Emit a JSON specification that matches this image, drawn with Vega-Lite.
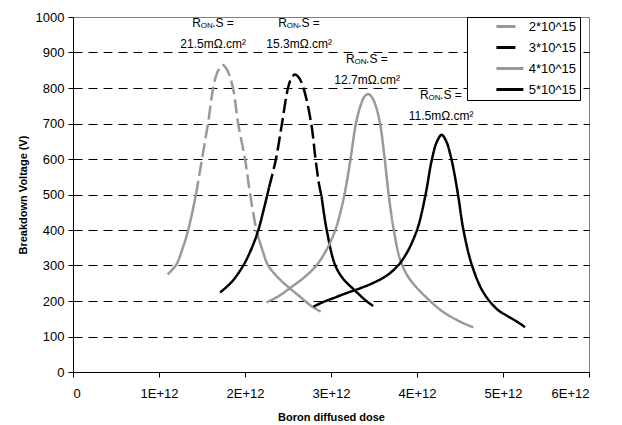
{
  "$schema": "https://vega.github.io/schema/vega-lite/v6.json",
  "autosize": {"type": "none"},
  "width": 516,
  "height": 355,
  "padding": {"left": 73, "top": 17, "right": 33, "bottom": 53},
  "background": "white",
  "config": {
    "view": {"stroke": "#808080", "strokeWidth": 1},
    "font": "Liberation Sans"
  },
  "datasets": {
    "curves": [
      {"series": "2*10^15", "seg": "1a", "style": "solid", "dose": 1.10e12, "bv": 275},
      {"series": "2*10^15", "seg": "1a", "style": "solid", "dose": 1.20e12, "bv": 302},
      {"series": "2*10^15", "seg": "1a", "style": "solid", "dose": 1.27e12, "bv": 345},
      {"series": "2*10^15", "seg": "1a", "style": "solid", "dose": 1.34e12, "bv": 400},
      {"series": "2*10^15", "seg": "1a", "style": "solid", "dose": 1.43e12, "bv": 500},
      {"series": "2*10^15", "seg": "1b", "style": "dash", "dose": 1.43e12, "bv": 500},
      {"series": "2*10^15", "seg": "1b", "style": "dash", "dose": 1.50e12, "bv": 600},
      {"series": "2*10^15", "seg": "1b", "style": "dash", "dose": 1.57e12, "bv": 700},
      {"series": "2*10^15", "seg": "1b", "style": "dash", "dose": 1.63e12, "bv": 800},
      {"series": "2*10^15", "seg": "1b", "style": "dash", "dose": 1.68e12, "bv": 845},
      {"series": "2*10^15", "seg": "1b", "style": "dash", "dose": 1.74e12, "bv": 865},
      {"series": "2*10^15", "seg": "1b", "style": "dash", "dose": 1.79e12, "bv": 852},
      {"series": "2*10^15", "seg": "1b", "style": "dash", "dose": 1.86e12, "bv": 800},
      {"series": "2*10^15", "seg": "1b", "style": "dash", "dose": 1.92e12, "bv": 700},
      {"series": "2*10^15", "seg": "1b", "style": "dash", "dose": 2.00e12, "bv": 600},
      {"series": "2*10^15", "seg": "1b", "style": "dash", "dose": 2.06e12, "bv": 500},
      {"series": "2*10^15", "seg": "1b", "style": "dash", "dose": 2.13e12, "bv": 400},
      {"series": "2*10^15", "seg": "1c", "style": "solid", "dose": 2.13e12, "bv": 400},
      {"series": "2*10^15", "seg": "1c", "style": "solid", "dose": 2.20e12, "bv": 345},
      {"series": "2*10^15", "seg": "1c", "style": "solid", "dose": 2.27e12, "bv": 300},
      {"series": "2*10^15", "seg": "1c", "style": "solid", "dose": 2.40e12, "bv": 262},
      {"series": "2*10^15", "seg": "1c", "style": "solid", "dose": 2.52e12, "bv": 236},
      {"series": "2*10^15", "seg": "1c", "style": "solid", "dose": 2.64e12, "bv": 212},
      {"series": "2*10^15", "seg": "1c", "style": "solid", "dose": 2.76e12, "bv": 188},
      {"series": "2*10^15", "seg": "1c", "style": "solid", "dose": 2.88e12, "bv": 170},

      {"series": "3*10^15", "seg": "2a", "style": "solid", "dose": 1.71e12, "bv": 224},
      {"series": "3*10^15", "seg": "2a", "style": "solid", "dose": 1.85e12, "bv": 255},
      {"series": "3*10^15", "seg": "2a", "style": "solid", "dose": 1.98e12, "bv": 300},
      {"series": "3*10^15", "seg": "2a", "style": "solid", "dose": 2.08e12, "bv": 350},
      {"series": "3*10^15", "seg": "2a", "style": "solid", "dose": 2.155e12, "bv": 400},
      {"series": "3*10^15", "seg": "2a", "style": "solid", "dose": 2.22e12, "bv": 460},
      {"series": "3*10^15", "seg": "2a", "style": "solid", "dose": 2.28e12, "bv": 520},
      {"series": "3*10^15", "seg": "2b", "style": "dash", "dose": 2.28e12, "bv": 520},
      {"series": "3*10^15", "seg": "2b", "style": "dash", "dose": 2.36e12, "bv": 600},
      {"series": "3*10^15", "seg": "2b", "style": "dash", "dose": 2.43e12, "bv": 700},
      {"series": "3*10^15", "seg": "2b", "style": "dash", "dose": 2.50e12, "bv": 800},
      {"series": "3*10^15", "seg": "2b", "style": "dash", "dose": 2.54e12, "bv": 828},
      {"series": "3*10^15", "seg": "2b", "style": "dash", "dose": 2.58e12, "bv": 838},
      {"series": "3*10^15", "seg": "2b", "style": "dash", "dose": 2.63e12, "bv": 828},
      {"series": "3*10^15", "seg": "2b", "style": "dash", "dose": 2.68e12, "bv": 800},
      {"series": "3*10^15", "seg": "2b", "style": "dash", "dose": 2.77e12, "bv": 700},
      {"series": "3*10^15", "seg": "2b", "style": "dash", "dose": 2.82e12, "bv": 600},
      {"series": "3*10^15", "seg": "2b", "style": "dash", "dose": 2.86e12, "bv": 530},
      {"series": "3*10^15", "seg": "2b", "style": "dash", "dose": 2.89e12, "bv": 495},
      {"series": "3*10^15", "seg": "2c", "style": "solid", "dose": 2.89e12, "bv": 495},
      {"series": "3*10^15", "seg": "2c", "style": "solid", "dose": 2.95e12, "bv": 400},
      {"series": "3*10^15", "seg": "2c", "style": "solid", "dose": 3.05e12, "bv": 300},
      {"series": "3*10^15", "seg": "2c", "style": "solid", "dose": 3.15e12, "bv": 260},
      {"series": "3*10^15", "seg": "2c", "style": "solid", "dose": 3.25e12, "bv": 236},
      {"series": "3*10^15", "seg": "2c", "style": "solid", "dose": 3.32e12, "bv": 220},
      {"series": "3*10^15", "seg": "2c", "style": "solid", "dose": 3.40e12, "bv": 202},
      {"series": "3*10^15", "seg": "2c", "style": "solid", "dose": 3.49e12, "bv": 186},

      {"series": "4*10^15", "seg": "3a", "style": "solid", "dose": 2.25e12, "bv": 196},
      {"series": "4*10^15", "seg": "3a", "style": "solid", "dose": 2.40e12, "bv": 215},
      {"series": "4*10^15", "seg": "3a", "style": "solid", "dose": 2.52e12, "bv": 236},
      {"series": "4*10^15", "seg": "3a", "style": "solid", "dose": 2.68e12, "bv": 265},
      {"series": "4*10^15", "seg": "3a", "style": "solid", "dose": 2.83e12, "bv": 300},
      {"series": "4*10^15", "seg": "3a", "style": "solid", "dose": 2.96e12, "bv": 350},
      {"series": "4*10^15", "seg": "3a", "style": "solid", "dose": 3.05e12, "bv": 400},
      {"series": "4*10^15", "seg": "3a", "style": "solid", "dose": 3.12e12, "bv": 460},
      {"series": "4*10^15", "seg": "3a", "style": "solid", "dose": 3.18e12, "bv": 530},
      {"series": "4*10^15", "seg": "3a", "style": "solid", "dose": 3.23e12, "bv": 605},
      {"series": "4*10^15", "seg": "3a", "style": "solid", "dose": 3.29e12, "bv": 700},
      {"series": "4*10^15", "seg": "3a", "style": "solid", "dose": 3.35e12, "bv": 755},
      {"series": "4*10^15", "seg": "3a", "style": "solid", "dose": 3.39e12, "bv": 776},
      {"series": "4*10^15", "seg": "3a", "style": "solid", "dose": 3.43e12, "bv": 783},
      {"series": "4*10^15", "seg": "3a", "style": "solid", "dose": 3.47e12, "bv": 776},
      {"series": "4*10^15", "seg": "3a", "style": "solid", "dose": 3.52e12, "bv": 750},
      {"series": "4*10^15", "seg": "3a", "style": "solid", "dose": 3.57e12, "bv": 700},
      {"series": "4*10^15", "seg": "3a", "style": "solid", "dose": 3.62e12, "bv": 610},
      {"series": "4*10^15", "seg": "3a", "style": "solid", "dose": 3.67e12, "bv": 500},
      {"series": "4*10^15", "seg": "3a", "style": "solid", "dose": 3.73e12, "bv": 400},
      {"series": "4*10^15", "seg": "3a", "style": "solid", "dose": 3.80e12, "bv": 320},
      {"series": "4*10^15", "seg": "3a", "style": "solid", "dose": 3.88e12, "bv": 275},
      {"series": "4*10^15", "seg": "3a", "style": "solid", "dose": 3.98e12, "bv": 242},
      {"series": "4*10^15", "seg": "3a", "style": "solid", "dose": 4.13e12, "bv": 205},
      {"series": "4*10^15", "seg": "3a", "style": "solid", "dose": 4.30e12, "bv": 170},
      {"series": "4*10^15", "seg": "3a", "style": "solid", "dose": 4.50e12, "bv": 142},
      {"series": "4*10^15", "seg": "3a", "style": "solid", "dose": 4.655e12, "bv": 126},

      {"series": "5*10^15", "seg": "4a", "style": "solid", "dose": 2.795e12, "bv": 184},
      {"series": "5*10^15", "seg": "4a", "style": "solid", "dose": 2.90e12, "bv": 196},
      {"series": "5*10^15", "seg": "4a", "style": "solid", "dose": 3.07e12, "bv": 212},
      {"series": "5*10^15", "seg": "4a", "style": "solid", "dose": 3.20e12, "bv": 224},
      {"series": "5*10^15", "seg": "4a", "style": "solid", "dose": 3.34e12, "bv": 236},
      {"series": "5*10^15", "seg": "4a", "style": "solid", "dose": 3.50e12, "bv": 252},
      {"series": "5*10^15", "seg": "4a", "style": "solid", "dose": 3.65e12, "bv": 272},
      {"series": "5*10^15", "seg": "4a", "style": "solid", "dose": 3.78e12, "bv": 300},
      {"series": "5*10^15", "seg": "4a", "style": "solid", "dose": 3.88e12, "bv": 335},
      {"series": "5*10^15", "seg": "4a", "style": "solid", "dose": 3.96e12, "bv": 375},
      {"series": "5*10^15", "seg": "4a", "style": "solid", "dose": 4.02e12, "bv": 415},
      {"series": "5*10^15", "seg": "4a", "style": "solid", "dose": 4.10e12, "bv": 500},
      {"series": "5*10^15", "seg": "4a", "style": "solid", "dose": 4.17e12, "bv": 595},
      {"series": "5*10^15", "seg": "4a", "style": "solid", "dose": 4.23e12, "bv": 648},
      {"series": "5*10^15", "seg": "4a", "style": "solid", "dose": 4.287e12, "bv": 668},
      {"series": "5*10^15", "seg": "4a", "style": "solid", "dose": 4.34e12, "bv": 650},
      {"series": "5*10^15", "seg": "4a", "style": "solid", "dose": 4.39e12, "bv": 610},
      {"series": "5*10^15", "seg": "4a", "style": "solid", "dose": 4.43e12, "bv": 565},
      {"series": "5*10^15", "seg": "4a", "style": "solid", "dose": 4.48e12, "bv": 495},
      {"series": "5*10^15", "seg": "4a", "style": "solid", "dose": 4.54e12, "bv": 400},
      {"series": "5*10^15", "seg": "4a", "style": "solid", "dose": 4.64e12, "bv": 300},
      {"series": "5*10^15", "seg": "4a", "style": "solid", "dose": 4.77e12, "bv": 225},
      {"series": "5*10^15", "seg": "4a", "style": "solid", "dose": 4.93e12, "bv": 177},
      {"series": "5*10^15", "seg": "4a", "style": "solid", "dose": 5.05e12, "bv": 158},
      {"series": "5*10^15", "seg": "4a", "style": "solid", "dose": 5.12e12, "bv": 148},
      {"series": "5*10^15", "seg": "4a", "style": "solid", "dose": 5.20e12, "bv": 136},
      {"series": "5*10^15", "seg": "4a", "style": "solid", "dose": 5.256e12, "bv": 126}
    ],
    "labels": [
      {"part": "r", "dose": 1.63e12, "bv": 983, "txt": "R"},
      {"part": "sub", "dose": 1.63e12, "bv": 983, "txt": "ON"},
      {"part": "rest", "dose": 1.63e12, "bv": 983, "txt": ".S ="},
      {"part": "value", "dose": 1.63e12, "bv": 924, "txt": "21.5mΩ.cm²"},
      {"part": "r", "dose": 2.63e12, "bv": 983, "txt": "R"},
      {"part": "sub", "dose": 2.63e12, "bv": 983, "txt": "ON"},
      {"part": "rest", "dose": 2.63e12, "bv": 983, "txt": ".S ="},
      {"part": "value", "dose": 2.63e12, "bv": 924, "txt": "15.3mΩ.cm²"},
      {"part": "r", "dose": 3.42e12, "bv": 882, "txt": "R"},
      {"part": "sub", "dose": 3.42e12, "bv": 882, "txt": "ON"},
      {"part": "rest", "dose": 3.42e12, "bv": 882, "txt": ".S ="},
      {"part": "value", "dose": 3.42e12, "bv": 822, "txt": "12.7mΩ.cm²"},
      {"part": "r", "dose": 4.28e12, "bv": 780, "txt": "R"},
      {"part": "sub", "dose": 4.28e12, "bv": 780, "txt": "ON"},
      {"part": "rest", "dose": 4.28e12, "bv": 780, "txt": ".S ="},
      {"part": "value", "dose": 4.28e12, "bv": 721, "txt": "11.5mΩ.cm²"}
    ]
  },
  "encoding": {
    "x": {
      "field": "dose", "type": "quantitative",
      "scale": {"domain": [0, 6e12], "nice": false, "zero": false},
      "axis": {
        "title": "Boron diffused dose",
        "values": [0, 1e12, 2e12, 3e12, 4e12, 5e12, 6e12],
        "labelExpr": "datum.value == 0 ? '0' : format(datum.value / 1e12, 'd') + 'E+12'",
        "grid": false,
        "labelOverlap": false,
        "tickSize": 5, "tickColor": "black", "domainColor": "black",
        "labelFont": "Liberation Sans", "labelFontSize": 13, "labelColor": "black",
        "labelPadding": 10,
        "titleFont": "Liberation Sans", "titleFontSize": 11, "titleFontWeight": "bold",
        "titleColor": "black", "titlePadding": 11
      }
    },
    "y": {
      "field": "bv", "type": "quantitative",
      "scale": {"domain": [0, 1000], "nice": false},
      "axis": {
        "title": "Breakdown  Voltage (V)",
        "values": [0, 100, 200, 300, 400, 500, 600, 700, 800, 900, 1000],
        "format": "d",
        "labelOverlap": false,
        "grid": true,
        "gridColor": "black",
        "gridDash": [9, 6],
        "gridWidth": 1,
        "gridOpacity": {"condition": {"test": "datum.value == 0 || datum.value == 1000", "value": 0}, "value": 1},
        "tickSize": 5, "tickColor": "black", "domainColor": "black",
        "labelFont": "Liberation Sans", "labelFontSize": 13, "labelColor": "black",
        "labelPadding": 4,
        "titleFont": "Liberation Sans", "titleFontSize": 11, "titleFontWeight": "bold",
        "titleColor": "black", "titlePadding": 7
      }
    }
  },
  "layer": [
    {
      "data": {"name": "curves"},
      "mark": {"type": "line", "interpolate": "catmull-rom", "strokeWidth": 2.5},
      "encoding": {
        "color": {
          "field": "series", "type": "nominal",
          "scale": {"domain": ["2*10^15", "3*10^15", "4*10^15", "5*10^15"], "range": ["#999999", "#000000", "#999999", "#000000"]},
          "legend": {
            "title": null,
            "orient": "none",
            "legendX": 394,
            "legendY": 0,
            "direction": "vertical",
            "fillColor": "white",
            "strokeColor": "black",
            "padding": 3,
            "symbolType": "M-4,0H4",
            "symbolSize": 45.5,
            "symbolStrokeWidth": 3,
            "symbolOffset": 33.4,
            "labelOffset": 12.3,
            "labelFont": "Liberation Sans",
            "labelFontSize": 13,
            "labelColor": "black",
            "rowPadding": 7,
            "encode": {
              "symbols": {
                "update": {
                  "strokeDash": {"signal": "(datum.value == '2*10^15' || datum.value == '3*10^15') ? [19, 100] : [1, 0]"}
                }
              },
              "labels": {
                "update": {
                  "text": {"signal": "datum.label + '\u00a0\u00a0\u00a0\u00a0\u00a0\u00a0'"}
                }
              }
            }
          }
        },
        "strokeDash": {
          "field": "style", "type": "nominal",
          "scale": {"domain": ["solid", "dash"], "range": [[1, 0], [14, 5]]},
          "legend": null
        },
        "detail": {"field": "seg", "type": "nominal"}
      }
    },
    {
      "data": {"name": "labels"},
      "transform": [{"filter": "datum.part == 'r'"}],
      "mark": {"type": "text", "font": "Liberation Sans", "fontSize": 12, "align": "left", "baseline": "middle", "dx": -21, "color": "black"},
      "encoding": {"text": {"field": "txt"}}
    },
    {
      "data": {"name": "labels"},
      "transform": [{"filter": "datum.part == 'sub'"}],
      "mark": {"type": "text", "font": "Liberation Sans", "fontSize": 8, "align": "left", "baseline": "middle", "dx": -12.5, "dy": 3, "color": "black"},
      "encoding": {"text": {"field": "txt"}}
    },
    {
      "data": {"name": "labels"},
      "transform": [{"filter": "datum.part == 'rest'"}],
      "mark": {"type": "text", "font": "Liberation Sans", "fontSize": 12, "align": "left", "baseline": "middle", "dx": -1, "color": "black"},
      "encoding": {"text": {"field": "txt"}}
    },
    {
      "data": {"name": "labels"},
      "transform": [{"filter": "datum.part == 'value'"}],
      "mark": {"type": "text", "font": "Liberation Sans", "fontSize": 12, "align": "center", "baseline": "middle", "color": "black"},
      "encoding": {"text": {"field": "txt"}}
    }
  ]
}
